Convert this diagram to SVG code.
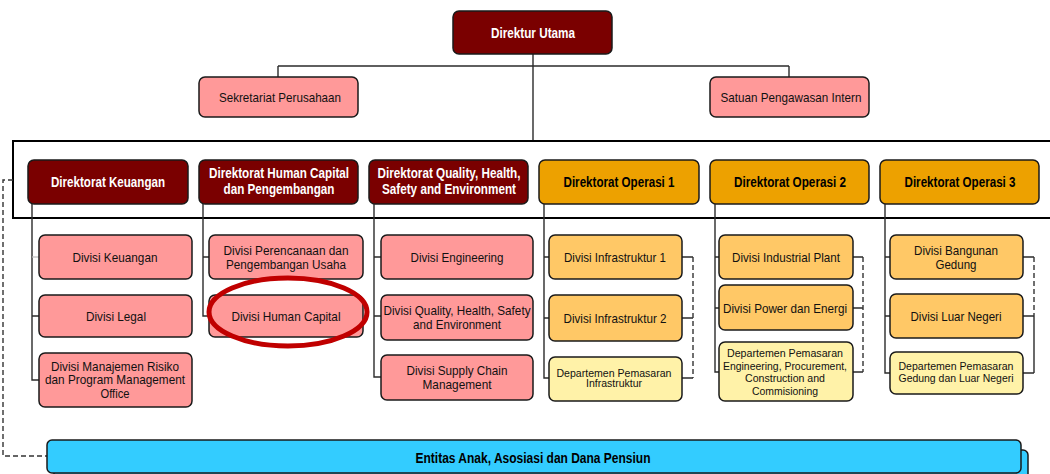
<svg xmlns="http://www.w3.org/2000/svg" width="1050" height="474" viewBox="0 0 1050 474">
  <style>
    text { font-family: "Liberation Sans", Arial, sans-serif; text-anchor: middle; }
    .b { font-weight: bold; font-size: 14px; }
    .r { font-size: 13.5px; fill: #111; }
    .m { font-size: 13px; fill: #111; }
    .t { font-size: 12px; fill: #111; }
    .s { font-size: 11.5px; fill: #111; }
    .w { fill: #fff; }
    .k { fill: #000; }
    .box { stroke: #1a1a1a; stroke-width: 1.5; }
    .maroon { fill: #7a0000; }
    .amber { fill: #eda100; }
    .pink { fill: #ff9999; }
    .gold { fill: #ffc866; }
    .cream { fill: #fff2a8; }
    .sky { fill: #33ccff; }
    .ln { stroke: #2b2b2b; stroke-width: 1.4; fill: none; }
    .dash { stroke: #333; stroke-width: 1.4; fill: none; stroke-dasharray: 5 3; }
  </style>

  <!-- connectors -->
  <g id="connectors">
    <!-- top level -->
    <path class="ln" d="M533 54 V141 M278 66 H789 M278 66 V77 M789 66 V77"/>
    <!-- directorate frame -->
    <rect x="13" y="141" width="1045" height="77" fill="none" stroke="#000" stroke-width="2"/>
    <!-- Keuangan column -->
    <path class="ln" d="M32 204 V380 H39 M32 316 H39"/>
    <path stroke="#bbb" stroke-width="1.2" d="M32 257 H39"/>
    <!-- Human Capital column -->
    <path class="ln" d="M203 204 V316 H209 M203 257 H209"/>
    <!-- QHSE column -->
    <path class="ln" d="M374 204 V377 H381 M374 257 H381 M374 316 H381"/>
    <!-- Operasi 1 column -->
    <path class="ln" d="M544 204 V378 H549 M544 257 H549 M544 318 H549"/>
    <path class="ln" d="M682 257 H693 M682 318 H693 M682 378 H693"/>
    <path class="dash" d="M693 257 V378"/>
    <!-- Operasi 2 column -->
    <path class="ln" d="M715 204 V372 H719 M715 257 H719 M715 308 H719"/>
    <path class="ln" d="M853 257 H863 M853 308 H863 M853 372 H863"/>
    <path class="dash" d="M863 257 V372"/>
    <!-- Operasi 3 column -->
    <path class="ln" d="M885 204 V373 H890 M885 257 H890 M885 316 H890"/>
    <path class="ln" d="M1023 257 H1034 M1023 316 H1034 M1023 373 H1034 M1034 316 V373"/>
    <path class="dash" d="M1034 257 V316"/>
    <!-- subsidiaries link -->
    <path class="dash" d="M13 180 H3 V456 H47"/>
  </g>

  <!-- top management -->
  <g id="direktur-utama">
    <rect class="box maroon" x="453" y="11" width="159" height="43" rx="6"/>
    <text class="b w" x="533" y="38" textLength="84" lengthAdjust="spacingAndGlyphs">Direktur Utama</text>
  </g>
  <g id="sekretariat-perusahaan">
    <rect class="box pink" x="199" y="77" width="159" height="40" rx="6"/>
    <text class="r" x="280" y="102" textLength="122" lengthAdjust="spacingAndGlyphs">Sekretariat Perusahaan</text>
  </g>
  <g id="satuan-pengawasan-intern">
    <rect class="box pink" x="710" y="77" width="159" height="40" rx="6"/>
    <text class="r" x="791" y="102" textLength="141" lengthAdjust="spacingAndGlyphs">Satuan Pengawasan Intern</text>
  </g>

  <!-- directorates -->
  <g id="dir-keuangan">
    <rect class="box maroon" x="28" y="160" width="160" height="44" rx="6"/>
    <text class="b w" x="108" y="187" textLength="114" lengthAdjust="spacingAndGlyphs">Direktorat Keuangan</text>
  </g>
  <g id="dir-human-capital">
    <rect class="box maroon" x="199" y="160" width="159" height="44" rx="6"/>
    <text class="b w" x="279" y="178" textLength="140" lengthAdjust="spacingAndGlyphs">Direktorat Human Capital</text>
    <text class="b w" x="279" y="194" textLength="111" lengthAdjust="spacingAndGlyphs">dan Pengembangan</text>
  </g>
  <g id="dir-qhse">
    <rect class="box maroon" x="369" y="160" width="159" height="44" rx="6"/>
    <text class="b w" x="449" y="178" textLength="143" lengthAdjust="spacingAndGlyphs">Direktorat Quality, Health,</text>
    <text class="b w" x="449" y="194" textLength="134" lengthAdjust="spacingAndGlyphs">Safety and Environment</text>
  </g>
  <g id="dir-operasi-1">
    <rect class="box amber" x="539" y="160" width="160" height="44" rx="6"/>
    <text class="b k" x="619" y="187" textLength="111" lengthAdjust="spacingAndGlyphs">Direktorat Operasi 1</text>
  </g>
  <g id="dir-operasi-2">
    <rect class="box amber" x="710" y="160" width="159" height="44" rx="6"/>
    <text class="b k" x="790" y="187" textLength="112" lengthAdjust="spacingAndGlyphs">Direktorat Operasi 2</text>
  </g>
  <g id="dir-operasi-3">
    <rect class="box amber" x="880" y="160" width="159" height="44" rx="6"/>
    <text class="b k" x="960" y="187" textLength="111" lengthAdjust="spacingAndGlyphs">Direktorat Operasi 3</text>
  </g>

  <!-- Keuangan divisions -->
  <g id="div-keuangan">
    <rect class="box pink" x="39" y="235" width="153" height="44" rx="6"/>
    <text class="r" x="115" y="262" textLength="85" lengthAdjust="spacingAndGlyphs">Divisi Keuangan</text>
  </g>
  <g id="div-legal">
    <rect class="box pink" x="39" y="295" width="153" height="42" rx="6"/>
    <text class="r" x="116" y="321" textLength="60" lengthAdjust="spacingAndGlyphs">Divisi Legal</text>
  </g>
  <g id="div-manajemen-risiko">
    <rect class="box pink" x="39" y="353" width="153" height="54" rx="6"/>
    <text class="m" x="115" y="371" textLength="128" lengthAdjust="spacingAndGlyphs">Divisi Manajemen Risiko</text>
    <text class="m" x="115" y="384" textLength="140" lengthAdjust="spacingAndGlyphs">dan Program Management</text>
    <text class="m" x="115" y="398" textLength="29" lengthAdjust="spacingAndGlyphs">Office</text>
  </g>

  <!-- Human Capital divisions -->
  <g id="div-perencanaan">
    <rect class="box pink" x="209" y="235" width="154" height="44" rx="6"/>
    <text class="t" x="286" y="255" textLength="125" lengthAdjust="spacingAndGlyphs">Divisi Perencanaan dan</text>
    <text class="t" x="286" y="268.5" textLength="120" lengthAdjust="spacingAndGlyphs">Pengembangan Usaha</text>
  </g>
  <g id="div-human-capital">
    <rect class="box pink" x="209" y="295" width="154" height="42" rx="6"/>
    <text class="r" x="286" y="321" textLength="109" lengthAdjust="spacingAndGlyphs">Divisi Human Capital</text>
  </g>

  <!-- QHSE divisions -->
  <g id="div-engineering">
    <rect class="box pink" x="381" y="235" width="152" height="44" rx="6"/>
    <text class="r" x="457" y="262" textLength="93" lengthAdjust="spacingAndGlyphs">Divisi Engineering</text>
  </g>
  <g id="div-qhse">
    <rect class="box pink" x="381" y="295" width="152" height="45" rx="6"/>
    <text class="m" x="457" y="315" textLength="147" lengthAdjust="spacingAndGlyphs">Divisi Quality, Health, Safety</text>
    <text class="m" x="457" y="328.5" textLength="88" lengthAdjust="spacingAndGlyphs">and Environment</text>
  </g>
  <g id="div-supply-chain">
    <rect class="box pink" x="381" y="355" width="152" height="45" rx="6"/>
    <text class="m" x="457" y="375" textLength="101" lengthAdjust="spacingAndGlyphs">Divisi Supply Chain</text>
    <text class="m" x="457" y="389" textLength="69" lengthAdjust="spacingAndGlyphs">Management</text>
  </g>

  <!-- Operasi 1 divisions -->
  <g id="div-infrastruktur-1">
    <rect class="box gold" x="549" y="235" width="133" height="44" rx="6"/>
    <text class="r" x="615" y="262" textLength="102" lengthAdjust="spacingAndGlyphs">Divisi Infrastruktur 1</text>
  </g>
  <g id="div-infrastruktur-2">
    <rect class="box gold" x="549" y="295" width="133" height="46" rx="6"/>
    <text class="r" x="615" y="323" textLength="103" lengthAdjust="spacingAndGlyphs">Divisi Infrastruktur 2</text>
  </g>
  <g id="dept-pemasaran-infrastruktur">
    <rect class="box cream" x="549" y="357" width="133" height="44" rx="6"/>
    <text class="s" x="614" y="377" textLength="115" lengthAdjust="spacingAndGlyphs">Departemen Pemasaran</text>
    <text class="s" x="614" y="387" textLength="56" lengthAdjust="spacingAndGlyphs">Infrastruktur</text>
  </g>

  <!-- Operasi 2 divisions -->
  <g id="div-industrial-plant">
    <rect class="box gold" x="719" y="235" width="134" height="44" rx="6"/>
    <text class="r" x="786" y="262" textLength="108" lengthAdjust="spacingAndGlyphs">Divisi Industrial Plant</text>
  </g>
  <g id="div-power-energi">
    <rect class="box gold" x="719" y="285" width="134" height="45" rx="6"/>
    <text class="r" x="785" y="313" textLength="124" lengthAdjust="spacingAndGlyphs">Divisi Power dan Energi</text>
  </g>
  <g id="dept-pemasaran-epcc">
    <rect class="box cream" x="719" y="342" width="134" height="59" rx="6"/>
    <text class="s" x="785" y="357" textLength="116" lengthAdjust="spacingAndGlyphs">Departemen Pemasaran</text>
    <text class="s" x="785" y="370" textLength="124" lengthAdjust="spacingAndGlyphs">Engineering, Procurement,</text>
    <text class="s" x="785" y="382" textLength="80" lengthAdjust="spacingAndGlyphs">Construction and</text>
    <text class="s" x="785" y="395" textLength="66" lengthAdjust="spacingAndGlyphs">Commisioning</text>
  </g>

  <!-- Operasi 3 divisions -->
  <g id="div-bangunan-gedung">
    <rect class="box gold" x="890" y="235" width="133" height="44" rx="6"/>
    <text class="m" x="956" y="255" textLength="84" lengthAdjust="spacingAndGlyphs">Divisi Bangunan</text>
    <text class="m" x="956" y="268.5" textLength="41" lengthAdjust="spacingAndGlyphs">Gedung</text>
  </g>
  <g id="div-luar-negeri">
    <rect class="box gold" x="890" y="294" width="133" height="44" rx="6"/>
    <text class="r" x="956" y="321" textLength="91" lengthAdjust="spacingAndGlyphs">Divisi Luar Negeri</text>
  </g>
  <g id="dept-pemasaran-gedung">
    <rect class="box cream" x="890" y="352" width="133" height="42" rx="6"/>
    <text class="s" x="956" y="370" textLength="115" lengthAdjust="spacingAndGlyphs">Departemen Pemasaran</text>
    <text class="s" x="956" y="382" textLength="115" lengthAdjust="spacingAndGlyphs">Gedung dan Luar Negeri</text>
  </g>

  <!-- subsidiaries bar -->
  <g id="entitas-anak">
    <rect class="box sky" x="54" y="450" width="974" height="40" rx="5"/>
    <rect class="box sky" x="47" y="440" width="974" height="33" rx="5"/>
    <text class="b k" x="533" y="463" textLength="235" lengthAdjust="spacingAndGlyphs">Entitas Anak, Asosiasi dan Dana Pensiun</text>
  </g>

  <!-- highlight -->
  <g id="highlight">
    <ellipse cx="288" cy="312" rx="79" ry="34" fill="none" stroke="#c00000" stroke-width="5"/>
  </g>
</svg>
